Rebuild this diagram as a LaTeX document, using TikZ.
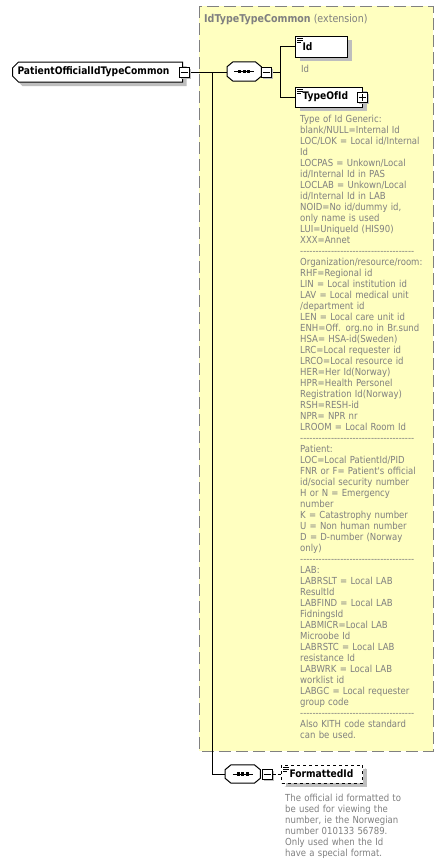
\documentclass[tikz,border=0pt]{standalone}
\usepackage{fontspec}
\newfontfamily\dvs{DejaVu Sans}[FakeStretch=0.88]
\usetikzlibrary{shapes.misc,shadows}
\definecolor{extyellow}{RGB}{255,255,192}
\definecolor{docgray}{RGB}{128,128,128}
\definecolor{shadowgray}{RGB}{190,190,190}
\definecolor{extborder}{RGB}{128,128,128}
\newcommand\dashrow{\foreach\i in {1,...,37}{\mbox{-}}}
\newcommand\elemmark[1]{%
  \draw[line width=0.8pt] ([xshift=2pt,yshift=-2.5pt]#1.north west) -- ++(6pt,0pt);
  \draw[line width=0.8pt] ([xshift=2pt,yshift=-4.5pt]#1.north west) -- ++(6pt,0pt);
  \draw[line width=0.8pt] ([xshift=2pt,yshift=-6.5pt]#1.north west) -- ++(4pt,0pt);}
% octagonal sequence compositor drawn on the anchors of node #1
\newcommand\octpath[1]{([xshift=6pt]#1.north west) -- ([xshift=-6pt]#1.north east)
  -- ([yshift=-5pt]#1.north east) -- ([yshift=5pt]#1.south east)
  -- ([xshift=-6pt]#1.south east) -- ([xshift=6pt]#1.south west)
  -- ([yshift=5pt]#1.south west) -- ([yshift=-5pt]#1.north west) -- cycle}
\newcommand\seqshape[1]{%
  \fill[shadowgray, shift={(3pt,-3pt)}] \octpath{#1};
  \draw[line width=1pt, fill=white] \octpath{#1};
  \draw[line width=1pt] ([xshift=-10pt]#1.center) -- ([xshift=10pt]#1.center);
  \foreach \dx in {-4.5,0,4.5}
    \fill ([xshift=\dx pt-1.6pt,yshift=-1.6pt]#1.center) rectangle ([xshift=\dx pt+1.6pt,yshift=1.6pt]#1.center);}
\begin{document}
\begin{tikzpicture}[x=1pt,y=-1pt,
  lbl/.style={font=\dvs\bfseries\fontsize{10.4}{12}\selectfont},
  doc/.style={font=\dvs\fontsize{9.7}{11}\selectfont, text=docgray, anchor=base west,
    inner sep=0pt, align=left, text width=140pt},
  shad/.style={drop shadow={shadow xshift=#1, shadow yshift=-#1, fill=shadowgray, opacity=1}},
  conn/.style={line width=1pt, draw=black},
  elem/.style={draw, line width=1pt, fill=white, shad=4pt, lbl, inner ysep=0pt,
    inner xsep=7pt, align=left, anchor=west},
  mainbox/.style={elem, chamfered rectangle, chamfered rectangle corners={north west,south west},
    chamfered rectangle xsep=3pt, chamfered rectangle ysep=3pt, inner xsep=2pt,
    text width=160pt, minimum height=20pt},
  pmbox/.style={draw, line width=1pt, fill=white, shad=2pt, minimum size=10pt, inner sep=0pt},
  seqbox/.style={draw=none, inner sep=0pt, anchor=west, minimum width=34pt, minimum height=19pt},
  extbox/.style={fill=extyellow, draw=extborder, line width=1pt, dash pattern=on 12pt off 5pt},
]
\useasboundingbox[fill=white] (0,0) rectangle (444,862);
% extension container
\draw[extbox] (199,6) rectangle (433,751);
\node[font=\dvs\fontsize{10.8}{12}\selectfont, text=docgray, anchor=base west, inner sep=0pt]
  (title) at (204,22) {{\bfseries IdTypeTypeCommon} (extension)};

% coordinates
\coordinate (j1) at (212,72);
\coordinate (j2) at (280,72);

% connectors (drawn first)
\draw[conn] (184,72) -- (227,72);
\draw[conn] (j1) |- (225,774);
\draw[conn] (266,72) -- (j2);
\draw[conn] (j2) |- (295,46.5);
\draw[conn] (j2) |- (295,97);

% nodes
\node[mainbox] (pat) at (12,72) {PatientOfficialIdTypeCommon};
\node[pmbox] (m1) at (184,72) {};
\draw[line width=1pt] ([xshift=2pt]m1.west) -- ([xshift=-2pt]m1.east);

\node[seqbox] (seq1) at (227,71.5) {};
\seqshape{seq1}
\node[pmbox] (s1m) at (266,72) {};
\draw[line width=1pt] ([xshift=2pt]s1m.west) -- ([xshift=-2pt]s1m.east);

\node[elem, text width=38pt, minimum height=21pt] (id) at (295,46.5) {Id};
\elemmark{id}
\node[doc] (iddoc) at (301,72) {Id};

\node[elem, text width=53pt, minimum height=20pt] (tid) at (295,97) {TypeOfId};
\elemmark{tid}
\node[pmbox] (tidp) at (362,97) {};
\draw[line width=1pt] ([xshift=2pt]tidp.west) -- ([xshift=-2pt]tidp.east);
\draw[line width=1pt] ([yshift=2pt]tidp.south) -- ([yshift=-2pt]tidp.north);

\node[doc] (tiddoc) at (300,122) {Type of Id Generic:\\
blank/NULL=Internal Id\\
LOC/LOK = Local id/Internal\\
Id\\
LOCPAS = Unkown/Local\\
id/Internal Id in PAS\\
LOCLAB = Unkown/Local\\
id/Internal Id in LAB\\
NOID=No id/dummy id,\\
only name is used\\
LUI=UniqueId (HIS90)\\
XXX=Annet\\
\dashrow\\
Organization/resource/room:\\
RHF=Regional id\\
LIN = Local institution id\\
LAV = Local medical unit\\
/department id\\
LEN = Local care unit id\\
ENH=Off. org.no in Br.sund\\
HSA= HSA-id(Sweden)\\
LRC=Local requester id\\
LRCO=Local resource id\\
HER=Her Id(Norway)\\
HPR=Health Personel\\
Registration Id(Norway)\\
RSH=RESH-id\\
NPR= NPR nr\\
LROOM = Local Room Id\\
\dashrow\\
Patient:\\
LOC=Local PatientId/PID\\
FNR or F= Patient's official\\
id/social security number\\
H or N = Emergency\\
number\\
K = Catastrophy number\\
U = Non human number\\
D = D-number (Norway\\
only)\\
\dashrow\\
LAB:\\
LABRSLT = Local LAB\\
ResultId\\
LABFIND = Local LAB\\
FidningsId\\
LABMICR=Local LAB\\
Microobe Id\\
LABRSTC = Local LAB\\
resistance Id\\
LABWRK = Local LAB\\
worklist id\\
LABGC = Local requester\\
group code\\
\dashrow\\
Also KITH code standard\\
can be used.};

% optional sequence + FormattedId
\node[seqbox, minimum width=35pt, minimum height=18pt] (seq2) at (225,774) {};
\seqshape{seq2}
\node[pmbox] (s2m) at (267,774) {};
\draw[line width=1pt] ([xshift=2pt]s2m.west) -- ([xshift=-2pt]s2m.east);
\node[elem, dashed, text width=65pt, inner xsep=8pt, minimum height=18pt,
  drop shadow={shadow xshift=3pt, shadow yshift=-3pt, fill=none, draw=shadowgray, dashed, line width=1pt}]
  (fid) at (281,774) {FormattedId};
\elemmark{fid}
\draw[conn, dashed, dash pattern=on 3pt off 2pt] (s2m.east) -- (fid.west);
\node[doc] (fiddoc) at (285,801) {The official id formatted to\\
be used for viewing the\\
number, ie the Norwegian\\
number 010133 56789.\\
Only used when the Id\\
have a special format.};
\end{tikzpicture}
\end{document}
